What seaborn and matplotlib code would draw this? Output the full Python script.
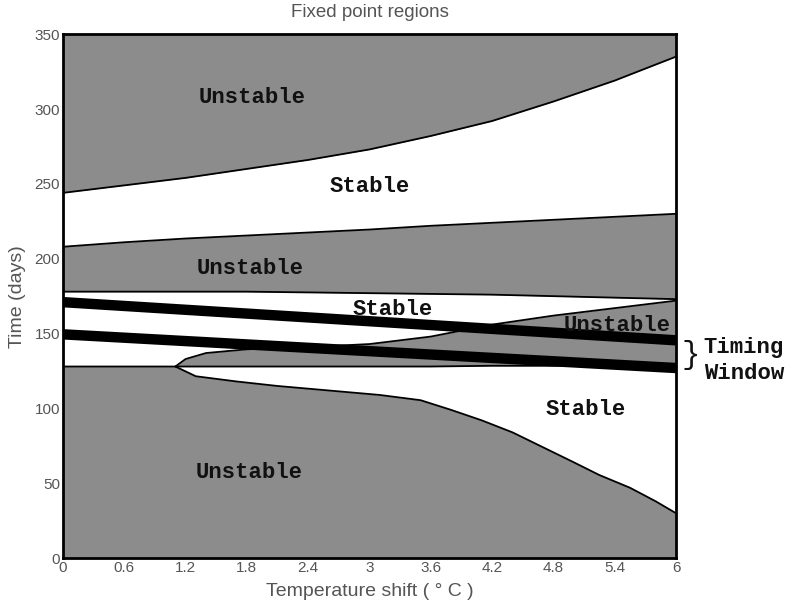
import seaborn as sns
import matplotlib.pyplot as plt

# boundaries of the fixed point regions
temp = [0, 0.6, 1.2, 1.8, 2.4, 3.0, 3.6, 4.2, 4.8, 5.4, 6.0]
top_unstable_low = [244, 249, 254, 260, 266, 273, 282, 292, 305, 319, 335]
mid_unstable_high = [208, 211, 213.5, 215.5, 217.5, 219.5, 222, 224, 226, 228, 230]
mid_unstable_low = [178, 178, 178, 178, 177.5, 177, 176.5, 176, 175, 174, 173]

# branch that opens at ~1.1 C
wedge_temp = [1.1, 1.2, 1.4, 1.8, 2.4, 3.0, 3.6, 4.2, 4.8, 5.4, 6.0]
wedge_top = [128, 133, 137, 139.5, 141, 143, 148, 156, 162, 167, 172]
wedge_base = [128, 128, 128, 128, 128, 128, 128, 128.5, 128.5, 129, 129]

low_temp = [0, 1.1, 1.3, 1.7, 2.1, 2.6, 3.1, 3.5, 3.8, 4.1, 4.4, 4.7, 5.0, 5.25, 5.55, 5.8, 6.0]
low_unstable_high = [128, 128, 121.5, 118, 115, 112, 109, 105.5, 99, 92, 84, 74, 64, 55.5, 47, 38, 30]

# timing window lines
window_temp = [0, 6]
window_late = [171, 145.5]
window_early = [149.5, 127]

labels = ["Unstable", "Stable", "Unstable", "Stable", "Unstable", "Stable", "Unstable"]
label_x = [1.85, 3.0, 1.83, 3.23, 5.42, 5.12, 1.82]
label_y = [308, 248.5, 193.5, 166, 155.5, 99, 57]

sns.set_style("white")
plt.rcParams['font.family'] = ['Liberation Sans', 'DejaVu Sans']

gray = '#8c8c8c'
txt_gray = '#555555'
mono = dict(family='Liberation Mono', weight='bold', fontsize=16, color='#111111')

fig, ax = plt.subplots(figsize=(7.87, 6.10), dpi=100)
fig.subplots_adjust(left=0.080, right=0.859, bottom=0.085, top=0.944)

# gray unstable regions
ax.fill_between(temp, top_unstable_low, 350, color=gray, lw=0, zorder=1)
ax.fill_between(temp, mid_unstable_low, mid_unstable_high, color=gray, lw=0, zorder=1)
ax.fill_between(wedge_temp, wedge_base, wedge_top, color=gray, lw=0, zorder=1)
ax.fill_between(low_temp, 0, low_unstable_high, color=gray, lw=0, zorder=1)

# boundary curves
for xs, ys in [(temp, top_unstable_low), (temp, mid_unstable_high), (temp, mid_unstable_low),
               (wedge_temp, wedge_top), (wedge_temp, wedge_base), (low_temp, low_unstable_high)]:
    sns.lineplot(x=xs, y=ys, sort=False, color='black', lw=1.3, ax=ax, zorder=2)

# thick timing window lines
for ys in [window_late, window_early]:
    sns.lineplot(x=window_temp, y=ys, sort=False, color='black', lw=7.5, ax=ax,
                 zorder=3, solid_capstyle='butt')

for lab, lx, ly in zip(labels, label_x, label_y):
    ax.text(lx, ly, lab, ha='center', va='center', zorder=4, **mono)

ax.text(6.05, 136, "}", ha='left', va='center', clip_on=False,
        family='Liberation Mono', fontsize=22, color='#111111')
ax.text(6.27, 132, "Timing\nWindow", ha='left', va='center', linespacing=1.3,
        clip_on=False, **mono)

ax.set_xlim(0, 6)
ax.set_ylim(0, 350)
ax.set_xticks([0, 0.6, 1.2, 1.8, 2.4, 3, 3.6, 4.2, 4.8, 5.4, 6])
ax.set_xticklabels(['0', '0.6', '1.2', '1.8', '2.4', '3', '3.6', '4.2', '4.8', '5.4', '6'])
ax.set_yticks([0, 50, 100, 150, 200, 250, 300, 350])
ax.tick_params(direction='in', length=4, width=1, color='black', labelsize=11,
               labelcolor=txt_gray, pad=2)
for sp in ax.spines.values():
    sp.set_visible(True)
    sp.set_color('black')
    sp.set_linewidth(2)
    sp.set_zorder(5)

ax.set_title("Fixed point regions", fontsize=13.5, color=txt_gray, pad=12)
ax.set_xlabel("Temperature shift ( \u00b0 C )", fontsize=14, color=txt_gray, labelpad=6)
ax.set_ylabel("Time (days)", fontsize=14, color=txt_gray, labelpad=6)

fig.savefig("out.png", dpi=100)
